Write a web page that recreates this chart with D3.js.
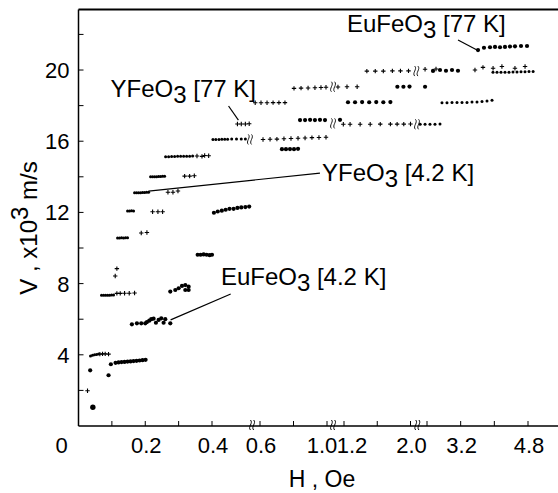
<!DOCTYPE html>
<html>
<head>
<meta charset="utf-8">
<script src="https://cdn.jsdelivr.net/npm/d3@7"></script>
<style>
  body { margin: 0; background: #fff; }
  text { font-family: "Liberation Sans", Arial, sans-serif; fill: #000; }
</style>
</head>
<body>
<svg id="chart" width="558" height="493"></svg>
<script>
// H in Oe, V in 10^3 m/s
const euFeO3_4K = [
  [0.043, 1.05], [0.035, 3.13], [0.09, 2.85], [0.097, 3.47],
  [0.111, 3.55], [0.120, 3.57], [0.129, 3.59], [0.138, 3.6], [0.147, 3.62], [0.156, 3.63],
  [0.165, 3.65], [0.174, 3.66], [0.183, 3.68], [0.192, 3.7], [0.201, 3.72],
  [0.160, 5.71], [0.175, 5.77], [0.188, 5.77], [0.200, 5.77], [0.205, 5.84], [0.212, 5.92],
  [0.218, 6.0], [0.225, 6.03], [0.232, 5.8], [0.240, 5.96], [0.248, 6.05], [0.255, 5.8],
  [0.260, 6.0], [0.275, 5.77],
  [0.275, 7.55], [0.29, 7.64], [0.30, 7.74], [0.31, 7.87], [0.32, 7.64], [0.33, 7.83],
  [0.32, 7.92], [0.33, 7.64],
  [0.357, 9.62], [0.366, 9.62], [0.375, 9.64], [0.384, 9.62], [0.393, 9.6], [0.400, 9.62],
  [0.408, 11.98], [0.424, 12.05], [0.441, 12.1], [0.457, 12.15], [0.473, 12.2], [0.490, 12.2],
  [0.506, 12.25], [0.522, 12.28], [0.539, 12.3], [0.555, 12.33]
];
const euFeO3_77K = [
  [0.731, 15.55], [0.755, 15.55], [0.779, 15.56], [0.803, 15.55], [0.827, 15.57],
  [0.839, 17.19], [0.869, 17.19], [0.899, 17.2], [0.928, 17.19], [0.958, 17.2], [0.988, 17.19], [1.153, 17.2],
  [1.248, 18.19], [1.333, 18.19], [1.418, 18.2], [1.503, 18.19], [1.588, 18.2], [1.673, 18.19], [1.758, 18.2],
  [1.842, 19.06], [1.915, 19.06], [1.988, 19.07], [2.353, 19.06],
  [2.543, 19.95], [2.709, 20.0], [2.851, 19.96], [2.994, 20.0], [3.136, 19.96],
  [3.612, 21.12], [3.754, 21.25], [3.897, 21.28], [4.016, 21.3], [4.135, 21.28],
  [4.253, 21.3], [4.372, 21.32], [4.491, 21.33], [4.634, 21.35], [4.777, 21.35]
];
const yFeO3_4K = [
  [0.036, 3.93], [0.042, 3.98], [0.048, 4.0], [0.054, 4.02], [0.060, 4.04],
  [0.069, 7.34], [0.075, 7.34], [0.081, 7.34], [0.087, 7.35], [0.093, 7.35], [0.099, 7.36], [0.105, 7.36],
  [0.117, 10.56], [0.123, 10.56], [0.129, 10.57], [0.135, 10.56], [0.141, 10.57], [0.147, 10.58],
  [0.147, 12.08], [0.153, 12.08], [0.159, 12.09], [0.165, 12.08],
  [0.168, 13.1], [0.174, 13.1], [0.180, 13.1], [0.186, 13.11], [0.192, 13.12], [0.198, 13.12],
  [0.204, 13.13], [0.210, 13.13],
  [0.216, 14.0], [0.222, 14.0], [0.228, 14.01], [0.234, 14.01], [0.240, 14.02], [0.246, 14.02],
  [0.252, 14.03], [0.258, 14.03],
  [0.261, 15.13], [0.270, 15.13], [0.279, 15.14], [0.288, 15.14], [0.297, 15.15], [0.306, 15.15],
  [0.315, 15.15], [0.324, 15.16], [0.333, 15.16], [0.342, 15.17],
  [0.404, 16.1], [0.416, 16.1], [0.429, 16.1], [0.441, 16.11], [0.453, 16.11], [0.465, 16.11],
  [0.482, 16.12], [0.502, 16.12], [0.522, 16.12], [0.539, 16.13],
  [2.235, 16.95], [2.353, 16.95], [2.471, 16.96], [2.59, 16.96], [2.709, 16.97],
  [2.756, 18.16], [2.875, 18.16], [2.994, 18.17], [3.113, 18.17], [3.232, 18.18], [3.350, 18.18],
  [3.469, 18.2], [3.588, 18.21], [3.707, 18.23], [3.826, 18.26], [3.945, 18.3],
  [3.968, 19.87], [4.063, 19.87], [4.158, 19.88], [4.253, 19.88], [4.348, 19.88], [4.443, 19.89],
  [4.538, 19.89], [4.634, 19.9], [4.729, 19.9], [4.824, 19.91], [4.919, 19.92]
];
const yFeO3_77K = [
  [0.027, 1.98],
  [0.064, 4.04], [0.072, 4.05], [0.080, 4.05], [0.090, 4.04],
  [0.115, 7.45], [0.125, 7.45], [0.138, 7.46], [0.152, 7.46], [0.168, 7.47],
  [0.11, 8.43], [0.115, 8.84],
  [0.188, 10.84], [0.205, 10.87],
  [0.222, 12.04], [0.238, 12.04], [0.252, 12.04],
  [0.268, 13.13], [0.283, 13.13], [0.298, 13.2],
  [0.318, 14.04], [0.333, 14.04], [0.347, 14.06],
  [0.355, 15.17], [0.370, 15.15], [0.378, 15.2], [0.390, 15.18],
  [0.618, 16.1], [0.660, 16.11], [0.701, 16.12], [0.743, 16.14], [0.785, 16.15],
  [0.827, 16.17], [0.869, 16.18], [0.910, 16.2], [0.952, 16.21], [0.994, 16.22],
  [0.506, 16.97], [0.522, 16.97], [0.539, 16.97], [0.555, 16.98],
  [0.580, 18.16], [0.606, 18.16], [0.642, 18.16], [0.678, 18.17], [0.713, 18.17], [0.749, 18.17],
  [0.803, 18.97], [0.845, 18.98], [0.887, 18.99], [0.928, 19.0], [0.964, 19.02], [0.994, 19.03],
  [1.129, 19.05], [1.236, 19.06], [1.358, 19.06],
  [1.192, 16.95], [1.273, 16.95], [1.394, 16.95], [1.515, 16.95], [1.636, 16.96],
  [1.758, 16.96], [1.839, 16.96], [1.919, 16.96], [2.0, 16.97],
  [1.475, 19.94], [1.576, 19.94], [1.673, 19.94], [1.782, 19.95], [1.879, 19.95], [1.976, 19.95],
  [2.353, 20.04], [2.614, 20.06],
  [3.54, 20.0], [3.73, 20.15], [3.97, 20.1], [4.18, 20.2], [4.49, 20.1], [4.73, 20.2]
];
// wavy break marks drawn on the data rows
const rowBreaks = [[0.558, 16.1], [1.071, 19.06], [1.071, 17.0], [2.157, 16.95], [2.141, 19.94]];

const yTicks = [2, 4, 6, 8, 10, 12, 14, 16, 18, 20, 22];
const yTickLabels = [4, 8, 12, 16, 20];
const xTicks = [0.1, 0.2, 0.3, 0.4, 0.6, 0.8, 1.0, 1.2, 1.6, 2.0, 2.4, 3.2, 4.0, 4.8];
const xTickLabels = ['0.2', '0.4', '0.6', '1.0', '1.2', '2.0', '3.2', '4.8'];
const axisBreaks = [0.567, 1.071, 2.165];

const labels = [
  { name: 'EuFeO', rest: ' [77 K]', at: [1.236, 22.11], from: [3.137, 21.69], to: [3.588, 21.12] },
  { name: 'YFeO', rest: ' [77 K]', at: [0.096, 18.47], from: [0.469, 17.98], to: [0.510, 17.19] },
  { name: 'YFeO', rest: ' [4.2 K]', at: [0.970, 13.76], from: [0.958, 14.21], to: [0.21, 13.2] },
  { name: 'EuFeO', rest: ' [4.2 K]', at: [0.437, 7.92], from: [0.478, 7.42], to: [0.276, 5.96] }
];

const svg = d3.select('svg#chart');
// broken H axis: each piece gets its own linear stretch
const x = d3.scaleLinear()
  .domain([0, 0.4, 0.6, 1.0, 1.2, 2.0, 2.4, 4.8, 5.5])
  .range([78.5, 212, 260, 327, 344, 410.5, 427, 528, 558]);
const y = d3.scaleLinear().domain([0, 23.4]).range([426, 9.5]);

const g = svg.append('g');

// frame: left, bottom and top lines
g.append('line').attr('x1', x(0)).attr('x2', x(0)).attr('y1', y(0)).attr('y2', y(23.4))
  .attr('stroke', '#000').attr('stroke-width', 1.5);
g.append('line').attr('x1', x(0)).attr('x2', 558).attr('y1', y(0)).attr('y2', y(0))
  .attr('stroke', '#000').attr('stroke-width', 1.5);
g.append('line').attr('x1', x(0)).attr('x2', 558).attr('y1', y(23.4)).attr('y2', y(23.4))
  .attr('stroke', '#000').attr('stroke-width', 1.8);

g.selectAll('.ytick').data(yTicks).join('line')
  .attr('x1', x(0)).attr('x2', x(0) + 5)
  .attr('y1', d => y(d)).attr('y2', d => y(d))
  .attr('stroke', '#000').attr('stroke-width', 1);
g.selectAll('.ylab').data(yTickLabels).join('text')
  .attr('x', x(0) - 9).attr('y', d => y(d) + 8)
  .attr('text-anchor', 'end').attr('font-size', 22)
  .text(d => d);

g.selectAll('.xtick').data(xTicks).join('line')
  .attr('x1', d => x(d)).attr('x2', d => x(d))
  .attr('y1', y(0)).attr('y2', y(0) - 5)
  .attr('stroke', '#000').attr('stroke-width', 1);
const nudge = { '1.0': -5, '1.2': 8 };
g.selectAll('.xlab').data(xTickLabels).join('text')
  .attr('x', d => x(+d) + (nudge[d] || 1))
  .attr('y', y(0) + 27)
  .attr('text-anchor', 'middle').attr('font-size', 22)
  .text(d => d);
g.append('text').attr('x', x(0) - 17).attr('y', y(0) + 27)
  .attr('text-anchor', 'middle').attr('font-size', 22).text('0');

function squiggle(px, py) {
  let p = '';
  [-1.6, 1.6].forEach(o => {
    p += `M${px + o},${py - 5}C${px + o + 3},${py - 2} ${px + o - 3},${py + 2} ${px + o},${py + 5}`;
  });
  return p;
}
g.selectAll('.abreak').data(axisBreaks).join('path')
  .attr('d', d => squiggle(x(d), y(0) - 1))
  .attr('fill', 'none').attr('stroke', '#000').attr('stroke-width', 1);
g.selectAll('.rbreak').data(rowBreaks).join('path')
  .attr('d', d => squiggle(x(d[0]), y(d[1])))
  .attr('fill', 'none').attr('stroke', '#000').attr('stroke-width', 0.9);

// markers
g.selectAll('.eu4').data(euFeO3_4K.concat(euFeO3_77K)).join('circle')
  .attr('cx', d => x(d[0])).attr('cy', d => y(d[1]))
  .attr('r', (d, i) => i === 0 ? 2.7 : 2.1).attr('fill', '#000');
g.selectAll('.y4').data(yFeO3_4K).join('circle')
  .attr('cx', d => x(d[0])).attr('cy', d => y(d[1]))
  .attr('r', 1.5).attr('fill', '#000');
g.selectAll('.y77').data(yFeO3_77K).join('path')
  .attr('d', d => `M${x(d[0]) - 2.2},${y(d[1])}h4.4M${x(d[0])},${y(d[1]) - 2.2}v4.4`)
  .attr('stroke', '#000').attr('stroke-width', 1.1);

// annotations
labels.forEach(d => {
  g.append('line')
    .attr('x1', x(d.from[0])).attr('y1', y(d.from[1]))
    .attr('x2', x(d.to[0])).attr('y2', y(d.to[1]))
    .attr('stroke', '#000').attr('stroke-width', 1.2);
  const t = g.append('text').attr('x', x(d.at[0])).attr('y', y(d.at[1])).attr('font-size', 24);
  t.append('tspan').text(d.name);
  t.append('tspan').attr('dy', 6).text('3');
  t.append('tspan').attr('dy', -6).text(d.rest);
});

// axis titles
g.append('text').attr('x', 322).attr('y', 487)
  .attr('text-anchor', 'middle').attr('font-size', 23)
  .text('H , Oe');
const yt = g.append('text')
  .attr('transform', 'translate(37,228) rotate(-90)')
  .attr('text-anchor', 'middle').attr('font-size', 24);
yt.append('tspan').text('V , x10');
yt.append('tspan').attr('dy', -9).text('3');
yt.append('tspan').attr('dy', 9).text('  m/s');
</script>
</body>
</html>
